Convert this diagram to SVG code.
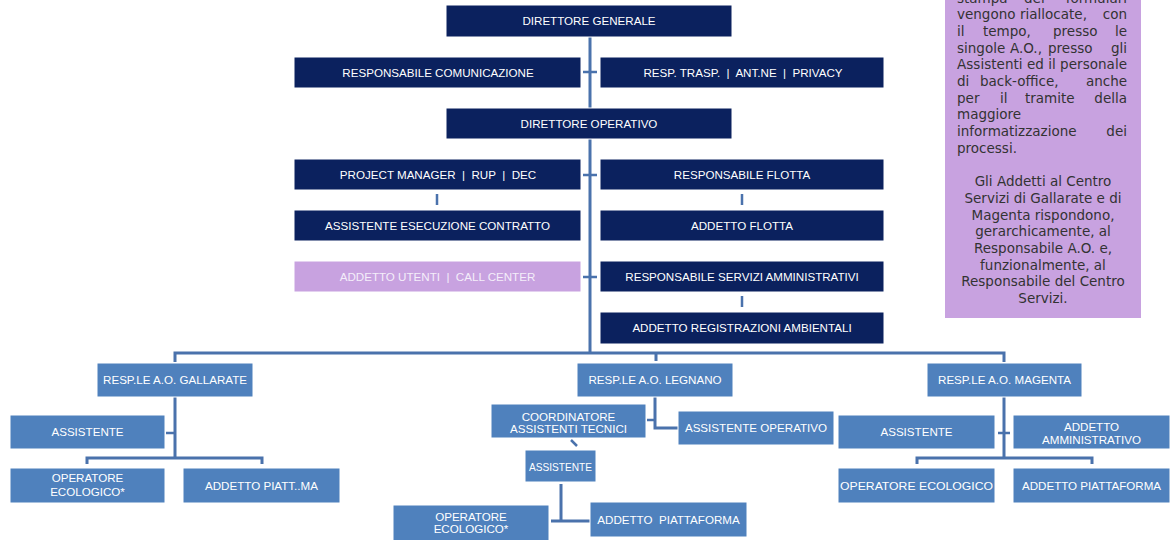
<svg xmlns="http://www.w3.org/2000/svg" width="1173" height="540" viewBox="0 0 1173 540">
<style>
  .top rect{fill:#0B215E;stroke:#ffffff;stroke-width:1}
  .bot rect{fill:#4F81BD;stroke:#ffffff;stroke-width:1}
  .lav rect{fill:#C8A2E0;stroke:#ffffff;stroke-width:1}
  .lbl{font-family:"Liberation Sans",Arial,sans-serif;font-size:11.6px;fill:#ffffff;text-anchor:middle;white-space:pre}
  .blbl{font-family:"Liberation Sans",Arial,sans-serif;font-size:11.6px;fill:#ffffff;text-anchor:middle;white-space:pre}
  .lav text{fill:#F4EEFA}
  .conn{fill:none;stroke:#4A72AC;stroke-width:3}
  .thin{fill:none;stroke:#4A72AC;stroke-width:2.5}
  .note{font-family:"DejaVu Sans",sans-serif;font-size:13.5px;fill:#333333}
  .c{text-anchor:middle}
  .e{text-anchor:end}
</style>
<rect width="1173" height="540" fill="#ffffff"/>

<g id="connectors">
  <path class="conn" d="M590,37 V108 M590,139 V353"/>
  <path class="thin" d="M583,72 H597 M583,175 H597 M583,277 H597"/>
  <path class="thin" d="M437,194 V205 M742,194 V205 M742,296 V307"/>
  <path class="conn" d="M175,362 V353 H1004 V362 M656,353 V361"/>
  <path class="conn" d="M175,397 V458 M87,464 V458 H262 V464"/>
  <path class="thin" d="M166,433 H175"/>
  <path class="conn" d="M1004,397 V458 M917,464 V458 H1092 V464"/>
  <path class="thin" d="M998,433 H1010"/>
  <path class="conn" d="M655,397 V428 H678"/>
  <path class="thin" d="M647,420 H655"/>
  <path class="thin" d="M571,440 L577,446"/>
  <path class="conn" d="M561,484 V521 M551,521 H590"/>
</g>

<g id="direttore-generale" class="top"><rect x="446" y="5" width="286" height="32"/><text class="lbl" x="589" y="25">DIRETTORE GENERALE</text></g>
<g id="resp-comunicazione" class="top"><rect x="294" y="57" width="287" height="31"/><text class="lbl" x="438" y="76.5">RESPONSABILE COMUNICAZIONE</text></g>
<g id="resp-trasp" class="top"><rect x="600" y="57" width="284" height="31"/><text class="lbl" x="743" y="76.5">RESP. TRASP.  |  ANT.NE  |  PRIVACY</text></g>
<g id="direttore-operativo" class="top"><rect x="446" y="108" width="286" height="31"/><text class="lbl" x="589" y="127.5">DIRETTORE OPERATIVO</text></g>
<g id="project-manager" class="top"><rect x="294" y="159" width="287" height="31"/><text class="lbl" x="438" y="178.5">PROJECT MANAGER  |  RUP  |  DEC</text></g>
<g id="resp-flotta" class="top"><rect x="600" y="159" width="284" height="31"/><text class="lbl" x="742" y="178.5">RESPONSABILE FLOTTA</text></g>
<g id="assistente-esecuzione" class="top"><rect x="294" y="210" width="287" height="31"/><text class="lbl" x="437.5" y="229.5">ASSISTENTE ESECUZIONE CONTRATTO</text></g>
<g id="addetto-flotta" class="top"><rect x="600" y="210" width="284" height="31"/><text class="lbl" x="742" y="229.5">ADDETTO FLOTTA</text></g>
<g id="addetto-utenti" class="lav"><rect x="294" y="261" width="287" height="31"/><text class="lbl" x="437.5" y="280.5">ADDETTO UTENTI  |  CALL CENTER</text></g>
<g id="resp-servizi-amm" class="top"><rect x="600" y="261" width="284" height="31"/><text class="lbl" x="742" y="280.5">RESPONSABILE SERVIZI AMMINISTRATIVI</text></g>
<g id="addetto-registrazioni" class="top"><rect x="600" y="312" width="284" height="32"/><text class="lbl" x="742" y="332">ADDETTO REGISTRAZIONI AMBIENTALI</text></g>

<g id="resp-gallarate" class="bot"><rect x="97" y="363" width="156" height="34"/><text class="blbl" x="175" y="384">RESP.LE A.O. GALLARATE</text></g>
<g id="assistente-gallarate" class="bot"><rect x="10" y="415" width="155" height="34"/><text class="blbl" x="87.5" y="436">ASSISTENTE</text></g>
<g id="operatore-gallarate" class="bot"><rect x="10" y="468" width="155" height="35"/><text class="blbl" x="87.5" y="482">OPERATORE</text><text class="blbl" x="87.5" y="495.5">ECOLOGICO*</text></g>
<g id="piatt-gallarate" class="bot"><rect x="183" y="468" width="157" height="35"/><text class="blbl" x="261.5" y="489.5">ADDETTO PIATT..MA</text></g>

<g id="resp-legnano" class="bot"><rect x="577" y="363" width="156" height="34"/><text class="blbl" x="655" y="384">RESP.LE A.O. LEGNANO</text></g>
<g id="coordinatore-legnano" class="bot"><rect x="491" y="404" width="155" height="34"/><text class="blbl" x="568.5" y="420.5">COORDINATORE</text><text class="blbl" x="568.5" y="432.5">ASSISTENTI TECNICI</text></g>
<g id="assistente-operativo" class="bot"><rect x="678" y="411" width="156" height="34"/><text class="blbl" x="756" y="432">ASSISTENTE OPERATIVO</text></g>
<g id="assistente-legnano" class="bot"><rect x="525" y="450" width="71" height="32"/><text class="blbl" x="560.5" y="470.5" textLength="63" lengthAdjust="spacingAndGlyphs">ASSISTENTE</text></g>
<g id="operatore-legnano" class="bot"><rect x="393" y="505" width="156" height="40"/><text class="blbl" x="471" y="520.5">OPERATORE</text><text class="blbl" x="471" y="533">ECOLOGICO*</text></g>
<g id="piatt-legnano" class="bot"><rect x="590" y="502" width="157" height="35"/><text class="blbl" x="668.5" y="523.5">ADDETTO  PIATTAFORMA</text></g>

<g id="resp-magenta" class="bot"><rect x="927" y="363" width="155" height="34"/><text class="blbl" x="1004.5" y="384">RESP.LE A.O. MAGENTA</text></g>
<g id="assistente-magenta" class="bot"><rect x="838" y="415" width="157" height="34"/><text class="blbl" x="916.5" y="436">ASSISTENTE</text></g>
<g id="amministrativo-magenta" class="bot"><rect x="1013" y="415" width="157" height="34"/><text class="blbl" x="1091.5" y="431">ADDETTO</text><text class="blbl" x="1091.5" y="443.5">AMMINISTRATIVO</text></g>
<g id="operatore-magenta" class="bot"><rect x="838" y="468" width="157" height="35"/><text class="blbl" x="916.5" y="489.5" textLength="153" lengthAdjust="spacingAndGlyphs">OPERATORE ECOLOGICO</text></g>
<g id="piatt-magenta" class="bot"><rect x="1013" y="468" width="157" height="35"/><text class="blbl" x="1091.5" y="489.5">ADDETTO PIATTAFORMA</text></g>

<g id="nota">
  <rect x="945" y="-2" width="196" height="320" fill="#C8A2E0"/>
  <text class="note" y="2.5"><tspan x="957">stampa</tspan><tspan x="1024">dei</tspan><tspan x="1127" class="e">formulari</tspan></text>
  <text class="note" y="19.2"><tspan x="957">vengono</tspan><tspan x="1020">riallocate,</tspan><tspan x="1127" class="e">con</tspan></text>
  <text class="note" y="35.9"><tspan x="957">il</tspan><tspan x="983">tempo,</tspan><tspan x="1053">presso</tspan><tspan x="1127" class="e">le</tspan></text>
  <text class="note" y="52.6"><tspan x="957">singole</tspan><tspan x="1010">A.O.,</tspan><tspan x="1048">presso</tspan><tspan x="1127" class="e">gli</tspan></text>
  <text class="note" x="957" y="69.3" textLength="170" lengthAdjust="spacing">Assistenti ed il personale</text>
  <text class="note" y="86"><tspan x="957">di</tspan><tspan x="980">back-office,</tspan><tspan x="1127" class="e">anche</tspan></text>
  <text class="note" y="102.7"><tspan x="957">per</tspan><tspan x="1000">il</tspan><tspan x="1025">tramite</tspan><tspan x="1127" class="e">della</tspan></text>
  <text class="note" x="957" y="119.4">maggiore</text>
  <text class="note" y="136.1"><tspan x="957">informatizzazione</tspan><tspan x="1127" class="e">dei</tspan></text>
  <text class="note" x="957" y="152.8">processi.</text>
  <text class="note c" x="1043" y="186.2">Gli Addetti al Centro</text>
  <text class="note c" x="1043" y="202.9">Servizi di Gallarate e di</text>
  <text class="note c" x="1043" y="219.6">Magenta rispondono,</text>
  <text class="note c" x="1043" y="236.3">gerarchicamente, al</text>
  <text class="note c" x="1043" y="253">Responsabile A.O. e,</text>
  <text class="note c" x="1043" y="269.7">funzionalmente, al</text>
  <text class="note c" x="1043" y="286.4">Responsabile del Centro</text>
  <text class="note c" x="1043" y="303.1">Servizi.</text>
</g>
</svg>
